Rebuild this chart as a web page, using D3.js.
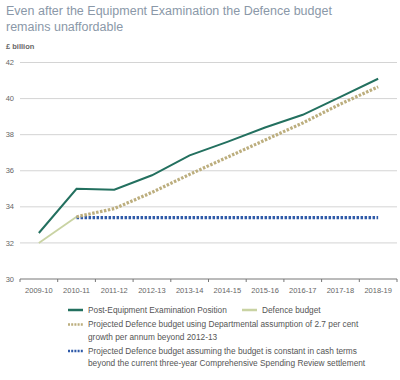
<!DOCTYPE html>
<html>
<head>
<meta charset="utf-8">
<script src="https://cdn.jsdelivr.net/npm/d3@7"></script>
<style>
  body { margin: 0; background: #fff; }
  svg { font-family: "Liberation Sans", Arial, sans-serif; }
</style>
</head>
<body>
<div id="chart"></div>
<script>
// data
var years = ["2009-10", "2010-11", "2011-12", "2012-13", "2013-14", "2014-15",
    "2015-16", "2016-17", "2017-18", "2018-19"];
var postEE = [32.55, 35.0, 34.95, 35.75, 36.85, 37.6, 38.4, 39.1, 40.1, 41.1];
var defenceBudget = [32.0, 33.45, null, null, null, null, null, null, null, null];
var projected27 = [null, 33.45, 33.9, 34.8, 35.8, 36.75, 37.7, 38.65, 39.7, 40.65];
var projectedFlat = [null, 33.4, 33.4, 33.4, 33.4, 33.4, 33.4, 33.4, 33.4, 33.4];
var yTicks = [30, 32, 34, 36, 38, 40, 42];

var margin = { t: 62.5, r: 3, b: 101, l: 20 };
var W = 400, H = 380;
var width = W - margin.l - margin.r,
    height = H - margin.t - margin.b;

var svg = d3.select('#chart')
    .append('svg')
    .attr('width', W)
    .attr('height', H);

// title
svg.append('text')
    .attr('x', 6).attr('y', 15)
    .attr('fill', '#8a98a8')
    .style('font-size', '12.5px')
    .text('Even after the Equipment Examination the Defence budget');
svg.append('text')
    .attr('x', 6).attr('y', 31)
    .attr('fill', '#8a98a8')
    .style('font-size', '12.5px')
    .text('remains unaffordable');

svg.append('text')
    .attr('x', 6).attr('y', 49)
    .attr('fill', '#666')
    .style('font-size', '7.5px')
    .style('font-weight', 'bold')
    .text('£ billion');

var plot = svg.append('g')
    .attr('transform', 'translate(' + margin.l + ',' + margin.t + ')');

var x = d3.scaleBand().domain(years).range([0, width]);
var y = d3.scaleLinear().domain([30, 42]).range([height, 0]);

// gridlines
plot.selectAll('.grid')
    .data(yTicks.filter(function (d) { return d > 30; }))
    .enter().append('line')
    .attr('x1', 0).attr('x2', width)
    .attr('y1', function (d) { return y(d); })
    .attr('y2', function (d) { return y(d); })
    .attr('stroke', '#d4d4d4')
    .attr('stroke-width', 1);

// y labels
plot.selectAll('.ylab')
    .data(yTicks)
    .enter().append('text')
    .attr('x', -6)
    .attr('y', function (d) { return y(d); })
    .attr('dy', '0.35em')
    .attr('text-anchor', 'end')
    .attr('fill', '#666')
    .style('font-size', '7.5px')
    .text(function (d) { return d; });

// x axis
var xAxis = plot.append('g')
    .attr('transform', 'translate(0,' + height + ')');
xAxis.append('line')
    .attr('x1', 0).attr('x2', width)
    .attr('stroke', '#777');
xAxis.selectAll('.tick')
    .data(d3.range(years.length + 1))
    .enter().append('line')
    .attr('x1', function (i) { return i * x.bandwidth(); })
    .attr('x2', function (i) { return i * x.bandwidth(); })
    .attr('y1', 0).attr('y2', 3)
    .attr('stroke', '#777');
xAxis.selectAll('.xlab')
    .data(years)
    .enter().append('text')
    .attr('x', function (d) { return x(d) + x.bandwidth() / 2; })
    .attr('y', 14)
    .attr('text-anchor', 'middle')
    .attr('fill', '#666')
    .style('font-size', '7.5px')
    .text(function (d) { return d; });

function lineFor(values) {
    return d3.line()
        .defined(function (d) { return d != null; })
        .x(function (d, i) { return x(years[i]) + x.bandwidth() / 2; })
        .y(function (d) { return y(d); })(values);
}

var series = [
    { values: defenceBudget, color: '#c9d3a3', width: 1.8, dash: null },
    { values: projectedFlat, color: '#2f5aa8', width: 3.2, dash: '2.5,1.5' },
    { values: projected27, color: '#bcae7e', width: 3.2, dash: '2.5,1.5' },
    { values: postEE, color: '#23705f', width: 2, dash: null }
];

series.forEach(function (s) {
    plot.append('path')
        .attr('d', lineFor(s.values))
        .attr('fill', 'none')
        .attr('stroke', s.color)
        .attr('stroke-width', s.width)
        .attr('stroke-dasharray', s.dash);
});

// legend
var legend = svg.append('g').style('font-size', '8.3px');
var items = [
    { x: 68, y: 310, color: '#23705f', dash: null, lines: ['Post-Equipment Examination Position'] },
    { x: 242, y: 310, color: '#c9d3a3', dash: null, lines: ['Defence budget'] },
    { x: 68, y: 324.5, color: '#bcae7e', dash: '2,1.2', lines: ['Projected Defence budget using Departmental assumption of 2.7 per cent', 'growth per annum beyond 2012-13'] },
    { x: 68, y: 351, color: '#2f5aa8', dash: '2,1.2', lines: ['Projected Defence budget assuming the budget is constant in cash terms', 'beyond the current three-year Comprehensive Spending Review settlement'] }
];
items.forEach(function (it) {
    legend.append('line')
        .attr('x1', it.x).attr('x2', it.x + 15)
        .attr('y1', it.y).attr('y2', it.y)
        .attr('stroke', it.color)
        .attr('stroke-width', 2.5)
        .attr('stroke-dasharray', it.dash);
    it.lines.forEach(function (t, j) {
        legend.append('text')
            .attr('x', it.x + 20)
            .attr('y', it.y + j * 12.5)
            .attr('dy', '0.35em')
            .attr('fill', '#555')
            .text(t);
    });
});
</script>
</body>
</html>
